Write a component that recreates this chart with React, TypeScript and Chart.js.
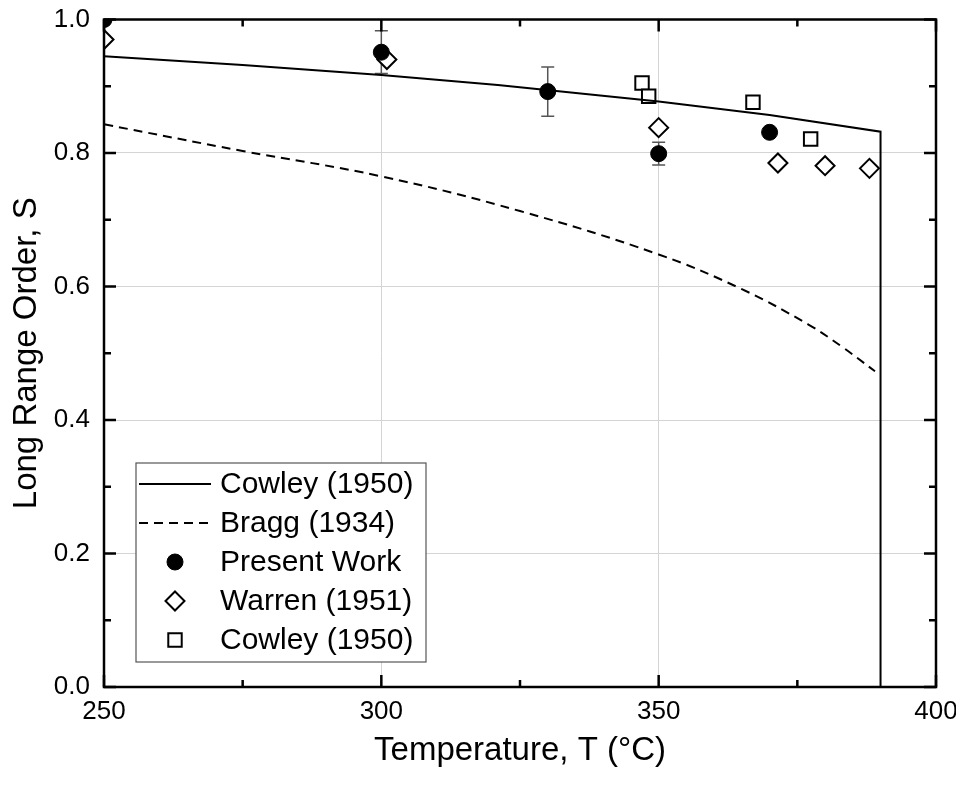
import React, { useEffect, useRef } from "react";
import { Chart, registerables } from "chart.js";

Chart.register(...registerables);

// ---- data ----
const cowleyLineT = [250, 275, 300, 321, 350, 370, 390, 390];
const cowleyLineS = [0.945, 0.932, 0.917, 0.902, 0.877, 0.857, 0.832, 0];

const braggT = [250, 275, 300, 325, 350, 365, 377, 383, 389];
const braggS = [0.843, 0.803, 0.765, 0.713, 0.648, 0.596, 0.543, 0.51, 0.473];

const presentT = [250, 300, 330, 350, 370];
const presentS = [1.0, 0.951, 0.892, 0.799, 0.831];
const presentErr = [0, 0.032, 0.037, 0.017, 0];

const warrenT = [250, 301, 350, 371.5, 380, 388];
const warrenS = [0.97, 0.94, 0.838, 0.785, 0.781, 0.777];

const cowleyPtsT = [347, 348.2, 367, 377.4];
const cowleyPtsS = [0.905, 0.885, 0.876, 0.821];

const xMajorTicks = [250, 300, 350, 400];
const xMinorTicks = [275, 325, 375];
const yMajorTicks = [0, 0.2, 0.4, 0.6, 0.8, 1.0];
const yMinorTicks = [0.1, 0.3, 0.5, 0.7, 0.9];

const FONT = "'Liberation Sans', Arial, sans-serif";

const zip = (xs: number[], ys: number[]) => xs.map((x, i) => ({ x, y: ys[i] }));

const errorBarPlugin = {
  id: "errorBars",
  beforeDatasetsDraw(chart: any) {
    const { ctx } = chart;
    const xs = chart.scales.x;
    const ys = chart.scales.y;
    ctx.save();
    ctx.strokeStyle = "#555";
    ctx.lineWidth = 1.5;
    presentT.forEach((t, i) => {
      const e = presentErr[i];
      if (!e) return;
      const px = xs.getPixelForValue(t);
      const top = ys.getPixelForValue(presentS[i] + e);
      const bot = ys.getPixelForValue(presentS[i] - e);
      ctx.beginPath();
      ctx.moveTo(px, top);
      ctx.lineTo(px, bot);
      ctx.moveTo(px - 6.5, top);
      ctx.lineTo(px + 6.5, top);
      ctx.moveTo(px - 6.5, bot);
      ctx.lineTo(px + 6.5, bot);
      ctx.stroke();
    });
    ctx.restore();
  },
};

const framePlugin = {
  id: "frame",
  afterDraw(chart: any) {
    const { ctx, chartArea: a } = chart;
    const xs = chart.scales.x;
    const ys = chart.scales.y;
    ctx.save();
    ctx.strokeStyle = "#000";
    ctx.lineWidth = 2.5;
    ctx.strokeRect(a.left, a.top, a.right - a.left, a.bottom - a.top);
    const drawX = (vals: number[], len: number) => {
      vals.forEach((v) => {
        const p = xs.getPixelForValue(v);
        ctx.beginPath();
        ctx.moveTo(p, a.bottom);
        ctx.lineTo(p, a.bottom - len);
        ctx.moveTo(p, a.top);
        ctx.lineTo(p, a.top + len);
        ctx.stroke();
      });
    };
    const drawY = (vals: number[], len: number) => {
      vals.forEach((v) => {
        const p = ys.getPixelForValue(v);
        ctx.beginPath();
        ctx.moveTo(a.left, p);
        ctx.lineTo(a.left + len, p);
        ctx.moveTo(a.right, p);
        ctx.lineTo(a.right - len, p);
        ctx.stroke();
      });
    };
    drawX(xMajorTicks, 12);
    drawX(xMinorTicks, 7);
    drawY(yMajorTicks, 12);
    drawY(yMinorTicks, 7);
    ctx.restore();
  },
};

const legendPlugin = {
  id: "boxLegend",
  afterDraw(chart: any) {
    const { ctx, chartArea: a } = chart;
    const left = a.left + 32;
    const right = left + 290;
    const bottom = a.bottom - 25;
    const top = bottom - 199;
    ctx.save();
    ctx.fillStyle = "#fff";
    ctx.fillRect(left, top, right - left, bottom - top);
    ctx.strokeStyle = "#555";
    ctx.lineWidth = 1.2;
    ctx.strokeRect(left, top, right - left, bottom - top);
    const rowY = (i: number) => top + 21 + i * 39;
    const textX = left + 84;
    const markX = left + 39;
    chart.data.datasets.forEach((ds: any, i: number) => {
      const y = rowY(i);
      if (ds.showLine) {
        ctx.strokeStyle = "#000";
        ctx.lineWidth = 2;
        ctx.setLineDash(ds.borderDash || []);
        ctx.beginPath();
        ctx.moveTo(left + 3, y);
        ctx.lineTo(left + 75, y);
        ctx.stroke();
        ctx.setLineDash([]);
      } else {
        ctx.lineWidth = ds.borderWidth;
        ctx.strokeStyle = ds.borderColor;
        ctx.fillStyle = ds.backgroundColor;
        const r = ds.pointRadius;
        ctx.beginPath();
        if (ds.pointStyle === "circle") {
          ctx.arc(markX, y, r, 0, Math.PI * 2);
        } else if (ds.pointStyle === "rectRot") {
          ctx.moveTo(markX - r, y);
          ctx.lineTo(markX, y - r);
          ctx.lineTo(markX + r, y);
          ctx.lineTo(markX, y + r);
          ctx.closePath();
        } else {
          const h = r * Math.SQRT1_2;
          ctx.rect(markX - h, y - h, 2 * h, 2 * h);
        }
        ctx.fill();
        ctx.stroke();
      }
      ctx.fillStyle = "#000";
      ctx.font = `30px ${FONT}`;
      ctx.textBaseline = "middle";
      ctx.textAlign = "left";
      ctx.fillText(ds.label, textX, y + 1);
    });
    ctx.restore();
  },
};

export default function App() {
  const ref = useRef<HTMLCanvasElement>(null);
  useEffect(() => {
    if (!ref.current) return;
    const chart = new Chart(ref.current, {
      type: "scatter",
      data: {
        datasets: [
          {
            label: "Cowley (1950)",
            data: zip(cowleyLineT, cowleyLineS),
            showLine: true,
            borderColor: "#000",
            borderWidth: 2,
            pointRadius: 0,
            fill: false,
          },
          {
            label: "Bragg (1934)",
            data: zip(braggT, braggS),
            showLine: true,
            borderColor: "#000",
            borderWidth: 2,
            borderDash: [9, 6],
            pointRadius: 0,
            tension: 0.4,
            fill: false,
          },
          {
            label: "Present Work",
            data: zip(presentT, presentS),
            pointStyle: "circle",
            pointRadius: 8,
            backgroundColor: "#000",
            borderColor: "#000",
            borderWidth: 1,
            clip: 0,
          },
          {
            label: "Warren (1951)",
            data: zip(warrenT, warrenS),
            pointStyle: "rectRot",
            pointRadius: 9.5,
            backgroundColor: "#fff",
            borderColor: "#000",
            borderWidth: 2,
            clip: 0,
          },
          {
            label: "Cowley (1950)",
            data: zip(cowleyPtsT, cowleyPtsS),
            pointStyle: "rect",
            pointRadius: 9.5,
            backgroundColor: "#fff",
            borderColor: "#000",
            borderWidth: 2,
            clip: 0,
          },
        ] as any,
      },
      options: {
        animation: false,
        responsive: true,
        maintainAspectRatio: false,
        layout: { padding: { top: 9, right: 28, left: 0, bottom: 0 } },
        plugins: {
          legend: { display: false },
          tooltip: { enabled: false },
        },
        scales: {
          x: {
            type: "linear",
            min: 250,
            max: 400,
            afterFit: (s: any) => {
              s.height = 100;
              s.paddingLeft = 0;
              s.paddingRight = 0;
            },
            ticks: {
              stepSize: 50,
              color: "#000",
              font: { size: 26, family: FONT },
              padding: 9,
              maxRotation: 0,
            },
            grid: { color: "#d4d4d4", lineWidth: 1, drawTicks: false },
            border: { display: false },
            title: {
              display: true,
              text: "Temperature, T (°C)",
              color: "#000",
              font: { size: 33, family: FONT, lineHeight: 1.0 },
              padding: { top: 0, bottom: 20 },
            },
          },
          y: {
            type: "linear",
            min: 0,
            max: 1,
            afterFit: (s: any) => {
              s.width = 96;
              s.paddingTop = 0;
              s.paddingBottom = 0;
            },
            ticks: {
              stepSize: 0.2,
              color: "#000",
              font: { size: 26, family: FONT },
              padding: 14,
              callback: (v: any) => Number(v).toFixed(1),
            },
            grid: { color: "#d4d4d4", lineWidth: 1, drawTicks: false },
            border: { display: false },
            title: {
              display: true,
              text: "Long Range Order, S",
              color: "#000",
              font: { size: 33, family: FONT, lineHeight: 1.0 },
              padding: { top: 2, bottom: 0 },
            },
          },
        },
      } as any,
      plugins: [errorBarPlugin, framePlugin, legendPlugin],
    });
    return () => chart.destroy();
  }, []);
  return (
    <div style={{ position: "relative", width: 956, height: 779 }}>
      <canvas ref={ref} />
    </div>
  );
}
